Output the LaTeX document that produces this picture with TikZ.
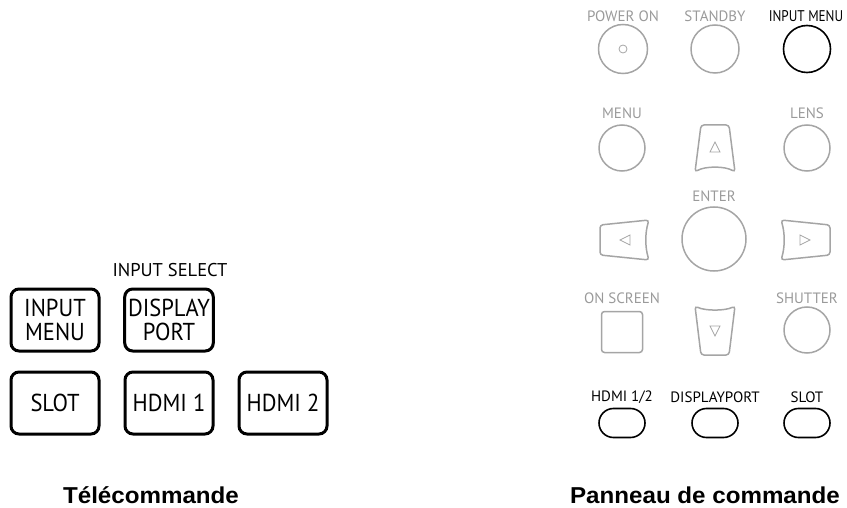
\documentclass[tikz,border=0pt]{standalone}
\usepackage{fontspec}
\setmainfont{PT Sans}
\newfontfamily\keyfont[FakeStretch=0.92]{PT Sans}
\newfontfamily\narrowfont[FakeStretch=0.85]{PT Sans}
\newfontfamily\capfont[FakeStretch=1.05]{Liberation Sans}
\usetikzlibrary{positioning}
\definecolor{keygrey}{HTML}{A5A5A5}
\definecolor{lblgrey}{HTML}{9A9A9A}

\begin{document}
\begin{tikzpicture}[x=1pt, y=-1pt,
    key/.style={rectangle, draw, line width=3pt, rounded corners=8pt,
                minimum width=88pt, minimum height=62pt, align=center,
                font=\keyfont\fontsize{24.5}{24}\selectfont},
    lbl/.style={text=lblgrey, inner sep=0pt, font=\fontsize{15}{15}\selectfont},
    blbl/.style={text=black, inner sep=0pt, font=\fontsize{15}{15}\selectfont},
    gkey/.style={draw=keygrey, line width=1.5pt},
    bkey/.style={draw, line width=1.6pt},
    oval/.style={draw, line width=1.6pt, rounded corners=14.5pt,
                 minimum width=46pt, minimum height=29pt},
    caption/.style={anchor=base, inner sep=0pt, font=\capfont\bfseries\fontsize{23}{24}\selectfont}]
    \useasboundingbox (0,0) rectangle (847,508);

    % Télécommande
    \node[inner sep=0pt, font=\fontsize{18.5}{20}\selectfont] (insel) at (170,270) {INPUT SELECT};
    \node[key] (inmenu) at (55,320) {INPUT\\MENU};
    \node[key, right of=inmenu, node distance=114pt] (dport) {DISPLAY\\PORT};
    \node[key, below of=inmenu, node distance=83pt] (slot) {SLOT};
    \node[key, right of=slot, node distance=114pt] (hdmia) {HDMI 1};
    \node[key, right of=hdmia, node distance=114pt] (hdmib) {HDMI 2};
    \node[caption] (remote) at (151,503) {Télécommande};

    % Panneau de commande
    \node[gkey, circle, minimum size=49pt] (pwr) at (623,49) {};
    \node[gkey, circle, minimum size=48pt] (stby) at (715,49) {};
    \node[bkey, circle, minimum size=47pt] (pmenu) at (807,49) {};
    \node[draw=keygrey, circle, line width=0.8pt, minimum size=8pt, inner sep=0pt] (pwrdot) at (pwr) {};
    \node[lbl, above of=pwr, node distance=33pt] (pwrl) {POWER ON};
    \node[lbl, above of=stby, node distance=33pt] (stbyl) {STANDBY};
    \node[blbl, font=\narrowfont\fontsize{15.5}{15}\selectfont] (pmenul) at (806,16) {INPUT MENU};

    \node[gkey, circle, minimum size=46pt] (menu) at (622,148) {};
    \node[gkey, circle, minimum size=46pt] (lens) at (807,148) {};
    \node[lbl, above of=menu, node distance=35pt] (menul) {MENU};
    \node[lbl, above of=lens, node distance=35pt] (lensl) {LENS};

    \node[gkey, circle, minimum size=64pt] (enter) at (714,239) {};
    \node[lbl, above of=enter, node distance=43pt] (enterl) {ENTER};

    \node[gkey, rectangle, rounded corners=3pt, minimum size=41pt] (osd) at (622,332) {};
    \node[gkey, circle, minimum size=46pt] (shut) at (807,330) {};
    \node[lbl, above of=osd, node distance=34pt] (osdl) {ON SCREEN};
    \node[lbl, above of=shut, node distance=32pt] (shutl) {SHUTTER};

    % arrow keys
    \draw[gkey, rounded corners=3pt] (701,125) -- (729,125) -- (735,172)
        .. controls (725,166) and (705,166) .. (695,172) -- cycle;
    \draw[gkey, rounded corners=3pt] (695,306) .. controls (705,311) and (725,311) .. (735,306)
        -- (729,355) -- (701,355) -- cycle;
    \draw[gkey, rounded corners=3pt] (600,225) -- (649,220)
        .. controls (645,233) and (645,247) .. (649,260) -- (600,255) -- cycle;
    \draw[gkey, rounded corners=3pt] (830,225) -- (781,220)
        .. controls (785,233) and (785,247) .. (781,260) -- (830,255) -- cycle;
    \draw[keygrey, line width=0.8pt] (715,142) -- (720,152) -- (710,152) -- cycle;
    \draw[keygrey, line width=0.8pt] (715,336) -- (720,326) -- (710,326) -- cycle;
    \draw[keygrey, line width=0.8pt] (620,240) -- (630,235) -- (630,245) -- cycle;
    \draw[keygrey, line width=0.8pt] (810,240) -- (800,235) -- (800,245) -- cycle;

    \node[oval] (phdmi) at (622,423) {};
    \node[oval] (pdport) at (715,423) {};
    \node[oval] (pslot) at (807,423) {};
    \node[blbl, above of=phdmi, node distance=26pt] (phdmil) {HDMI 1/2};
    \node[blbl, above of=pdport, node distance=26pt] (pdportl) {DISPLAYPORT};
    \node[blbl, above of=pslot, node distance=26pt] (pslotl) {SLOT};
    \node[caption] (panel) at (705,503) {Panneau de commande};
\end{tikzpicture}
\end{document}
